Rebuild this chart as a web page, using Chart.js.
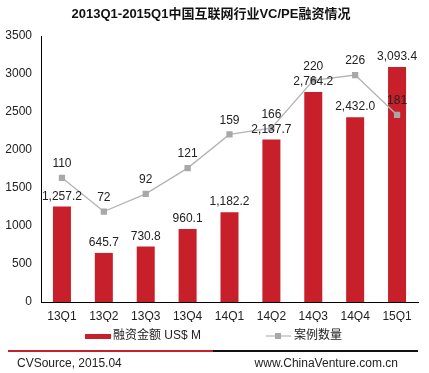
<!DOCTYPE html>
<html>
<head>
<meta charset="utf-8">
<script src="https://cdn.jsdelivr.net/npm/chart.js@4"></script>
<style>
  html, body { margin: 0; padding: 0; background: #fff; }
  #wrap { position: relative; width: 429px; height: 373px; }
</style>
</head>
<body>
<div id="wrap"><canvas id="chart" width="429" height="373"></canvas></div>
<script>
// data
const quarters = ['13Q1', '13Q2', '13Q3', '13Q4', '14Q1', '14Q2', '14Q3', '14Q4', '15Q1'];
const amounts = [1257.2, 645.7, 730.8, 960.1, 1182.2, 2137.7, 2764.2, 2432.0, 3093.4];
const deals = [110, 72, 92, 121, 159, 166, 220, 226, 181];
const yTicks = [0, 500, 1000, 1500, 2000, 2500, 3000, 3500];

const FONT = '"Liberation Sans", Arial, "Noto Sans CJK SC", sans-serif';
const RED = '#c8202a';
const GREY = '#b4b4b4';

function fmtAmount(v) {
    return v.toLocaleString('en-US', { minimumFractionDigits: 1, maximumFractionDigits: 1 });
}

// value labels, title, legend and footer
const extras = {
    id: 'extras',
    afterDatasetsDraw(chart) {
        const ctx = chart.ctx;
        ctx.save();
        ctx.font = '12px ' + FONT;
        ctx.fillStyle = '#222';
        ctx.textAlign = 'center';
        ctx.textBaseline = 'middle';

        // dataset 0 = line (deals), dataset 1 = bars (amounts)
        chart.getDatasetMeta(1).data.forEach((bar, i) => {
            ctx.fillText(fmtAmount(amounts[i]), bar.x, bar.y - 10);
        });
        chart.getDatasetMeta(0).data.forEach((pt, i) => {
            ctx.fillText(String(deals[i]), pt.x, pt.y - 14);
        });
        ctx.restore();
    },
    afterDraw(chart) {
        const ctx = chart.ctx;
        ctx.save();

        // title
        ctx.fillStyle = '#111';
        ctx.font = 'bold 13px ' + FONT;
        ctx.textAlign = 'center';
        ctx.textBaseline = 'middle';
        ctx.fillText('2013Q1-2015Q1中国互联网行业VC/PE融资情况', 211, 14);

        // legend
        ctx.font = '12px ' + FONT;
        ctx.textAlign = 'left';
        ctx.fillStyle = RED;
        ctx.fillRect(85, 334, 26, 5);
        ctx.fillStyle = '#222';
        ctx.fillText('融资金额 US$ M', 113, 336);

        ctx.strokeStyle = GREY;
        ctx.lineWidth = 1.2;
        ctx.beginPath();
        ctx.moveTo(266, 336);
        ctx.lineTo(291, 336);
        ctx.stroke();
        ctx.fillStyle = '#a8a8a8';
        ctx.fillRect(275, 333, 6, 6);
        ctx.fillStyle = '#222';
        ctx.fillText('案例数量', 294, 336);

        // footer rule
        ctx.fillStyle = RED;
        ctx.fillRect(8, 350, 205, 2);
        ctx.fillStyle = '#111';
        ctx.fillRect(213, 350, 205, 2);

        ctx.fillStyle = '#222';
        ctx.font = '12px ' + FONT;
        ctx.fillText('CVSource, 2015.04', 17, 364);
        ctx.textAlign = 'right';
        ctx.fillText('www.ChinaVenture.com.cn', 398, 364);
        ctx.restore();
    }
};

new Chart(document.getElementById('chart'), {
    data: {
        labels: quarters,
        datasets: [
            {
                type: 'line',
                label: '案例数量',
                data: deals,
                yAxisID: 'y1',
                borderColor: GREY,
                borderWidth: 1.3,
                pointStyle: 'rect',
                pointRadius: 3.5,
                pointBackgroundColor: '#a8a8a8',
                pointBorderColor: '#a8a8a8',
                order: 0
            },
            {
                type: 'bar',
                label: '融资金额 US$ M',
                data: amounts,
                yAxisID: 'y',
                backgroundColor: RED,
                barPercentage: 0.43,
                categoryPercentage: 1,
                order: 1
            }
        ]
    },
    options: {
        responsive: false,
        animation: false,
        layout: { padding: { top: 36, right: 11, bottom: 51, left: 0 } },
        plugins: {
            legend: { display: false },
            tooltip: { enabled: false }
        },
        scales: {
            x: {
                grid: { display: false, drawTicks: false },
                border: { color: '#000', width: 1 },
                ticks: { color: '#222', font: { family: FONT, size: 12 }, padding: 7, maxRotation: 0 },
                afterFit(scale) { scale.height = 20; }
            },
            y: {
                min: 0,
                max: 3500,
                afterBuildTicks(scale) { scale.ticks = yTicks.map(v => ({ value: v })); },
                grid: { display: false, drawTicks: true, tickLength: 3 },
                border: { color: '#000', width: 1 },
                ticks: {
                    color: '#222',
                    font: { family: FONT, size: 12 },
                    padding: 6,
                    callback: v => String(v)
                },
                afterFit(scale) { scale.width = 41; }
            },
            y1: {
                display: false,
                min: -30,
                max: 270
            }
        }
    },
    plugins: [extras]
});
</script>
</body>
</html>
